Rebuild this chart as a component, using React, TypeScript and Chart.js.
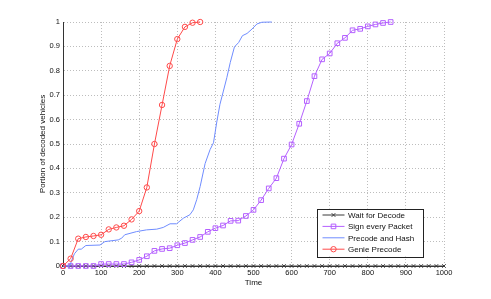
import React, { useEffect, useRef } from "react";
import { Chart, registerables } from "chart.js";

Chart.register(...registerables);

const seriesNames = ["Wait for Decode", "Sign every Packet", "Precode and Hash", "Genie Precode"];

const waitX = [0, 20, 40, 60, 80, 100, 120, 140, 160, 180, 200, 220, 240, 260, 280, 300, 320, 340, 360, 380, 400, 420, 440, 460, 480, 500, 520, 540, 560, 580, 600, 620, 640, 660, 680, 700, 720, 740, 760, 780, 800, 820, 840, 860, 880, 900, 920, 940, 960, 980, 1000];
const waitY = [0, 0, 0, 0, 0, 0, 0, 0, 0, 0, 0, 0, 0, 0, 0, 0, 0, 0, 0, 0, 0, 0, 0, 0, 0, 0, 0, 0, 0, 0, 0, 0, 0, 0, 0, 0, 0, 0, 0, 0, 0, 0, 0, 0, 0, 0, 0, 0, 0, 0, 0];

const signX = [0, 20, 40, 60, 80, 100, 120, 140, 160, 180, 200, 220, 240, 260, 280, 300, 320, 340, 360, 380, 400, 420, 440, 460, 480, 500, 520, 540, 560, 580, 600, 620, 640, 660, 680, 700, 720, 740, 760, 780, 800, 820, 840, 860];
const signY = [0, 0, 0, 0, 0, 0.008, 0.008, 0.008, 0.008, 0.015, 0.025, 0.04, 0.062, 0.07, 0.073, 0.085, 0.094, 0.107, 0.119, 0.14, 0.155, 0.166, 0.185, 0.186, 0.205, 0.23, 0.27, 0.318, 0.36, 0.44, 0.498, 0.583, 0.676, 0.778, 0.847, 0.871, 0.913, 0.935, 0.966, 0.972, 0.982, 0.99, 0.996, 1.0];

const hashX = [0, 18, 22, 30, 40, 48, 60, 97, 110, 145, 154, 162, 193, 219, 246, 263, 281, 298, 316, 333, 342, 351, 360, 373, 386, 395, 404, 412, 421, 430, 439, 450, 461, 471, 483, 496, 509, 522, 548];
const hashY = [0, 0, 0.02, 0.05, 0.069, 0.069, 0.084, 0.086, 0.1, 0.107, 0.114, 0.128, 0.141, 0.148, 0.151, 0.158, 0.173, 0.173, 0.196, 0.21, 0.23, 0.272, 0.326, 0.42, 0.477, 0.505, 0.594, 0.663, 0.717, 0.772, 0.834, 0.898, 0.916, 0.944, 0.953, 0.971, 0.992, 0.999, 1.0];

const genieX = [0, 20, 40, 60, 80, 100, 120, 140, 160, 180, 200, 220, 240, 260, 280, 300, 320, 340, 360];
const genieY = [0, 0.03, 0.112, 0.119, 0.123, 0.128, 0.15, 0.158, 0.165, 0.191, 0.225, 0.322, 0.5, 0.66, 0.82, 0.93, 0.98, 0.997, 1.0];

const xTicks = [0, 100, 200, 300, 400, 500, 600, 700, 800, 900, 1000];
const yTicks = [0, 0.1, 0.2, 0.3, 0.4, 0.5, 0.6, 0.7, 0.8, 0.9, 1];

const colors = ["#3a3a3a", "#b460ff", "#6f8cff", "#ff4a4a"];
const markers = ["crossRot", "rect", "none", "circle"];

const FONT = "'Liberation Sans', Arial, Helvetica, sans-serif";

function pts(xs: number[], ys: number[]) {
  return xs.map((x, i) => ({ x, y: ys[i] }));
}

function drawMarker(ctx: CanvasRenderingContext2D, style: string, x: number, y: number, color: string) {
  ctx.save();
  ctx.strokeStyle = color;
  ctx.lineWidth = 1;
  ctx.beginPath();
  if (style === "circle") {
    ctx.arc(x, y, 2.7, 0, Math.PI * 2);
  } else if (style === "rect") {
    ctx.rect(x - 2.3, y - 2.3, 4.6, 4.6);
  } else if (style === "crossRot") {
    ctx.moveTo(x - 1.8, y - 1.8);
    ctx.lineTo(x + 1.8, y + 1.8);
    ctx.moveTo(x + 1.8, y - 1.8);
    ctx.lineTo(x - 1.8, y + 1.8);
  }
  ctx.stroke();
  ctx.restore();
}

const legendPlugin = {
  id: "boxLegend",
  afterDraw(chart: any) {
    const ctx: CanvasRenderingContext2D = chart.ctx;
    const area = chart.chartArea;
    const w = 106;
    const h = 48;
    const x0 = area.right - 127;
    const y0 = area.bottom - 57.5;
    ctx.save();
    ctx.fillStyle = "#ffffff";
    ctx.fillRect(x0, y0, w, h);
    ctx.strokeStyle = "#222222";
    ctx.lineWidth = 1;
    ctx.strokeRect(Math.round(x0) + 0.5, Math.round(y0) + 0.5, w, h);
    ctx.font = "8px " + FONT;
    ctx.textBaseline = "middle";
    ctx.textAlign = "left";
    for (let i = 0; i < seriesNames.length; i++) {
      const yy = y0 + 6.5 + i * 11.4;
      ctx.strokeStyle = colors[i];
      ctx.beginPath();
      ctx.moveTo(x0 + 5.5, yy);
      ctx.lineTo(x0 + 27.5, yy);
      ctx.stroke();
      drawMarker(ctx, markers[i], x0 + 16.5, yy, colors[i]);
      ctx.fillStyle = "#111111";
      ctx.fillText(seriesNames[i], x0 + 31, yy + 0.5);
    }
    ctx.restore();
  },
};

export default function App() {
  const ref = useRef<HTMLCanvasElement | null>(null);
  useEffect(() => {
    if (!ref.current) return;
    const mk = (i: number, data: any[], radius: number) => ({
      label: seriesNames[i],
      data,
      borderColor: colors[i],
      backgroundColor: "rgba(0,0,0,0)",
      borderWidth: 1,
      pointStyle: markers[i] === "none" ? false : markers[i],
      pointRadius: markers[i] === "none" ? 0 : radius,
      pointBorderWidth: 1,
      pointBorderColor: colors[i],
      pointBackgroundColor: "rgba(0,0,0,0)",
      tension: 0,
      clip: false as any,
    });
    const chart = new Chart(ref.current, {
      type: "line",
      data: {
        datasets: [
          mk(3, pts(genieX, genieY), 2.7),
          mk(2, pts(hashX, hashY), 0),
          mk(1, pts(signX, signY), 3.3),
          mk(0, pts(waitX, waitY), 2.5),
        ],
      },
      options: {
        animation: false,
        responsive: false,
        maintainAspectRatio: false,
        layout: { padding: { left: 0, right: 47, top: 22, bottom: 0 } },
        plugins: { legend: { display: false }, tooltip: { enabled: false } },
        scales: {
          x: {
            type: "linear",
            min: 0,
            max: 1000,
            afterBuildTicks: (s: any) => {
              s.ticks = xTicks.map((v) => ({ value: v }));
            },
            afterFit: (s: any) => {
              s.height = 33;
            },
            ticks: {
              color: "#111",
              font: { family: FONT, size: 7.5 },
              padding: 2,
              maxRotation: 0,
              autoSkip: false,
              callback: (v: any) => String(Number(v)),
            },
            grid: { color: "#bdbdbd", lineWidth: 1, drawTicks: false },
            border: { display: true, color: "#333", width: 1, dash: [1, 2] },
            title: {
              display: true,
              text: "Time",
              color: "#111",
              font: { family: FONT, size: 8 },
              padding: { top: 0, bottom: 11.5 },
            },
          },
          y: {
            type: "linear",
            min: 0,
            max: 1,
            afterBuildTicks: (s: any) => {
              s.ticks = yTicks.map((v) => ({ value: v }));
            },
            afterFit: (s: any) => {
              s.width = 63;
            },
            ticks: {
              color: "#111",
              font: { family: FONT, size: 7.5 },
              padding: 3,
              autoSkip: false,
              callback: (v: any) => String(Number(Number(v).toFixed(1))),
            },
            grid: { color: "#bdbdbd", lineWidth: 1, drawTicks: false },
            border: { display: true, color: "#333", width: 1, dash: [1, 2] },
            title: {
              display: true,
              text: "Portion of decoded vehicles",
              color: "#111",
              font: { family: FONT, size: 8 },
              padding: { top: 38, bottom: 0 },
            },
          },
        },
      },
      plugins: [legendPlugin],
    });
    return () => chart.destroy();
  }, []);
  return (
    <div style={{ position: "absolute", left: 0, top: 0, width: 491, height: 299, background: "#fff" }}>
      <canvas ref={ref} width={491} height={299} style={{ display: "block", width: 491, height: 299 }} />
    </div>
  );
}
